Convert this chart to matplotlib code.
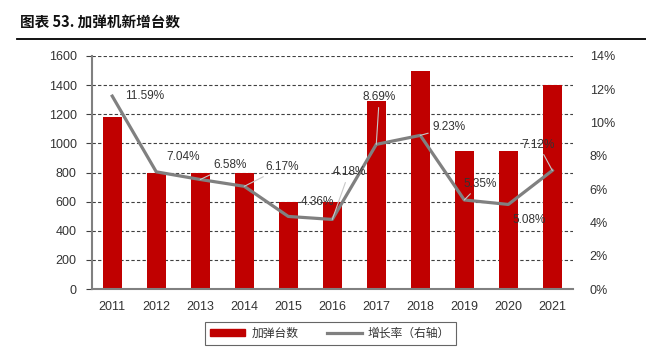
import matplotlib
matplotlib.use("Agg")
import matplotlib.pyplot as plt
from matplotlib.lines import Line2D

plt.rcParams['font.family'] = ['Liberation Sans', 'Noto Sans CJK SC', 'DejaVu Sans']

# data
years = ['2011', '2012', '2013', '2014', '2015', '2016', '2017', '2018', '2019', '2020', '2021']
units = [1180, 800, 800, 800, 600, 600, 1290, 1500, 950, 950, 1400]
growth = [11.59, 7.04, 6.58, 6.17, 4.36, 4.18, 8.69, 9.23, 5.35, 5.08, 7.12]
title = '图表 53. 加弹机新增台数'
bar_name = '加弹台数'
line_name = '增长率（右轴）'

# label layout (pixel offsets from the point, alignment, leader line)
label_offsets = [(13, 0, 'left', False), (10, 15, 'left', False), (13, 14, 'left', True),
                 (21, 19, 'left', True), (12, 14, 'left', False), (0, 47, 'left', True),
                 (3, 47, 'center', True), (12, 8, 'left', True), (-1, 16, 'left', True),
                 (4, -16, 'left', False), (-14, 26, 'center', True)]

RED = '#C00000'
GRAY = '#808080'
TXT = '#333333'
CJK = ['Noto Sans CJK SC', 'DejaVu Sans']

fig = plt.figure(figsize=(6.46, 3.54), dpi=100)
ax = fig.add_axes([92 / 646, 1 - 289 / 354, 481 / 646, 233 / 354])
x = list(range(len(years)))

ax.bar(x, units, width=0.43, color=RED, zorder=2)
ax.set_ylim(0, 1600)
ax.set_yticks(range(0, 1601, 200))
ax.set_xlim(-0.46, 10.47)
ax.set_xticks(x)
ax.set_xticklabels(years)
ax.yaxis.grid(True, linestyle=(0, (3, 2)), color='#404040', linewidth=0.8, zorder=0)
ax.set_axisbelow(True)
for s in ['top', 'right']:
    ax.spines[s].set_visible(False)
ax.spines['left'].set_color(GRAY)
ax.spines['left'].set_linewidth(1.5)
ax.spines['bottom'].set_color(GRAY)
ax.spines['bottom'].set_linewidth(1.5)
ax.tick_params(axis='y', length=4, color='#404040', pad=7, labelsize=9, labelcolor=TXT)
ax.tick_params(axis='x', length=0, pad=9, labelsize=9, labelcolor=TXT)

ax2 = ax.twinx()
ax2.plot(x, growth, color=GRAY, linewidth=2.3, zorder=3)
ax2.set_ylim(0, 14)
ax2.set_yticks(range(0, 15, 2))
ax2.set_yticklabels([f'{v}%' for v in range(0, 15, 2)])
for s in ['top', 'right', 'left', 'bottom']:
    ax2.spines[s].set_visible(False)
ax2.tick_params(axis='y', length=0, pad=12, labelsize=9, labelcolor=TXT)

for i, v in enumerate(growth):
    dx, dy, ha, lead = label_offsets[i]
    ax2.annotate(f'{v:.2f}%', (i, v), xytext=(dx, dy), textcoords='offset pixels',
                 ha=ha, va='center', fontsize=8.5, color=TXT, zorder=4,
                 arrowprops=dict(arrowstyle='-', color='#c8c8c8', lw=0.8,
                                 shrinkA=1, shrinkB=0) if lead else None)

handles = [plt.Rectangle((0, 0), 1, 1, color=RED),
           Line2D([0], [0], color=GRAY, linewidth=2.3)]
leg = fig.legend(handles, [bar_name, line_name], loc='center', bbox_to_anchor=(0.511, 0.058),
                 ncol=2, frameon=True, fancybox=False, edgecolor='#404040',
                 prop={'family': CJK, 'size': 8.5}, handlelength=3.0, handleheight=0.5,
                 columnspacing=2.4, borderpad=0.45, handletextpad=0.5, borderaxespad=0)
leg.get_frame().set_linewidth(0.8)
for t in leg.get_texts():
    t.set_color(TXT)

fig.text(20 / 646, 1 - 22 / 354, title, fontsize=10.5, fontweight='bold',
         family=CJK, va='center', ha='left', color='#111111')
fig.add_artist(Line2D([17 / 646, 1.0], [1 - 39 / 354, 1 - 39 / 354], color='black', linewidth=1.3))

fig.savefig('out.png', dpi=100)
